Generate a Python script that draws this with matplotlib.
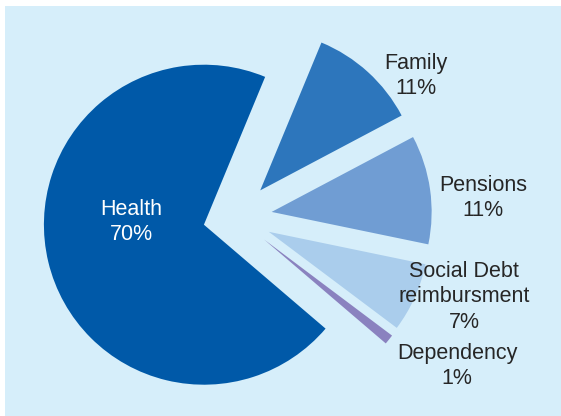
import matplotlib.pyplot as plt
import matplotlib.patches as mpatches

labels = ['Health', 'Dependency', 'Social Debt\nreimbursment', 'Pensions', 'Family']
shares = [70, 1, 7, 11, 11]
colors = ['#0059A8', '#8A82BF', '#AACDEC', '#709DD3', '#2D76BC']

# layout in pixel units (figure is 561 x 416, y up)
W, H = 561, 416
center = (236, H - 217)
radius = 160
explode = [33, 36, 36, 36, 36]
label_pos = [(131, H - 222), (457, H - 366), (464, H - 297), (483, H - 198), (416, H - 76)]

fig = plt.figure(figsize=(W / 100, H / 100), dpi=100)
fig.patch.set_facecolor('white')
ax = fig.add_axes([0, 0, 1, 1])

ax.add_patch(mpatches.Rectangle((5, 0), W - 5, H - 6, facecolor='#D6EEFA',
                                edgecolor='none', zorder=0))

ax.pie(shares, colors=colors, explode=explode, center=center, radius=radius,
       startangle=67.5, counterclock=True, wedgeprops=dict(linewidth=0))

for lab, val, (x, y) in zip(labels, shares, label_pos):
    col = 'white' if lab == 'Health' else '#262626'
    ax.text(x, y, '%s\n%d%%' % (lab, val), ha='center', va='center',
            fontsize=15.5, color=col, family='Liberation Sans', linespacing=1.3)

ax.set_xlim(0, W)
ax.set_ylim(0, H)
ax.set_aspect('equal')
ax.axis('off')

plt.savefig('out.png', dpi=100)
